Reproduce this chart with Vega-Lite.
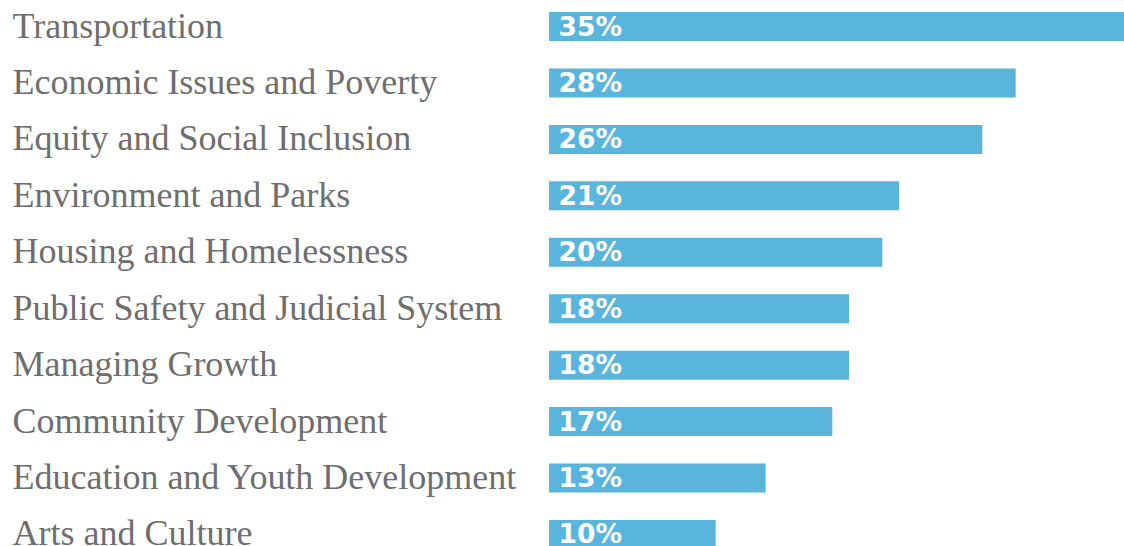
{
  "$schema": "https://vega.github.io/schema/vega-lite/v6.json",
  "autosize": {"type": "none"},
  "padding": {"left": 549, "top": 0, "right": 0, "bottom": 0},
  "width": 583.33,
  "height": 561,
  "background": "white",
  "config": {"view": {"stroke": null}},
  "data": {
    "values": [
      {"category": "Transportation", "value": 35, "label": "35%"},
      {"category": "Economic Issues and Poverty", "value": 28, "label": "28%"},
      {"category": "Equity and Social Inclusion", "value": 26, "label": "26%"},
      {"category": "Environment and Parks", "value": 21, "label": "21%"},
      {"category": "Housing and Homelessness", "value": 20, "label": "20%"},
      {"category": "Public Safety and Judicial System", "value": 18, "label": "18%"},
      {"category": "Managing Growth", "value": 18, "label": "18%"},
      {"category": "Community Development", "value": 17, "label": "17%"},
      {"category": "Education and Youth Development", "value": 13, "label": "13%"},
      {"category": "Arts and Culture", "value": 10, "label": "10%"}
    ]
  },
  "encoding": {
    "y": {
      "field": "category",
      "type": "nominal",
      "sort": null,
      "scale": {"paddingInner": 0.486, "paddingOuter": 0.2126},
      "axis": {
        "title": null,
        "domain": false,
        "ticks": false,
        "labelAlign": "left",
        "labelPadding": 537,
        "labelFont": "Liberation Serif",
        "labelFontSize": 36,
        "labelColor": "#6e6e6e",
        "labelLimit": 0,
        "labelBaseline": "middle"
      }
    }
  },
  "layer": [
    {
      "mark": {"type": "bar", "color": "#5ab5dc", "clip": false},
      "encoding": {
        "x": {
          "field": "value",
          "type": "quantitative",
          "scale": {"domain": [0, 35], "nice": false, "zero": true},
          "axis": null
        }
      }
    },
    {
      "mark": {
        "type": "text",
        "align": "right",
        "baseline": "middle",
        "dx": 73,
        "dy": 1,
        "font": "DejaVu Sans",
        "fontWeight": "bold",
        "fontSize": 26.5,
        "color": "white"
      },
      "encoding": {
        "x": {"datum": 0, "type": "quantitative"},
        "text": {"field": "label"}
      }
    }
  ]
}
